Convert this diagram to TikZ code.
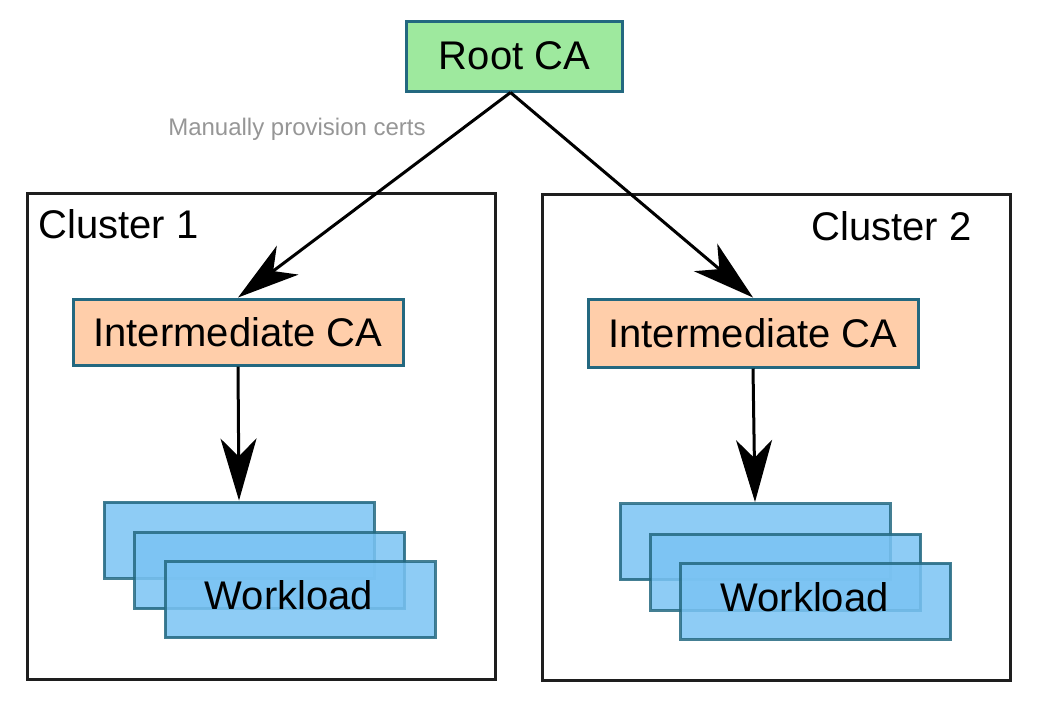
\documentclass[tikz,border=0pt]{standalone}
\usepackage{fontspec}
\setmainfont{Liberation Sans}
\usetikzlibrary{arrows.meta}
\definecolor{edgeteal}{RGB}{35,104,128}
\definecolor{rootgreen}{RGB}{158,233,158}
\definecolor{icapeach}{RGB}{255,206,170}
\definecolor{wlblue}{RGB}{122,195,243}
\definecolor{notegray}{RGB}{150,150,150}
\begin{document}
\begin{tikzpicture}
  [x=0.5pt,y=-0.5pt,
   every node/.style={inner sep=0pt,font=\fontsize{20pt}{24pt}\selectfont},
   cabox/.style={draw=edgeteal,line width=1.5pt,minimum height=34pt},
   wlbox/.style={draw=edgeteal,fill=wlblue,line width=1.5pt,opacity=0.85,text opacity=1,
                 minimum width=135pt,minimum height=38pt},
   wltext/.style={label={[xshift=-5.5pt,yshift=2pt]center:Workload}},
   clusterbox/.style={draw={rgb,255:red,30;green,30;blue,30},line width=1.5pt,minimum height=243pt,minimum width=234pt},
   arr/.style={-{Stealth[length=31pt,width=18pt,inset=9pt]},line width=1.5pt}]
  \useasboundingbox (0,0) rectangle (1042,714);

  \node[clusterbox] (cl1) at (261.5,436) {};
  \node[clusterbox] (cl2) at (776,437) {};
  \node[anchor=base west] (cl1lbl) at (38,238) {Cluster 1};
  \node[anchor=base east] (cl2lbl) at (972,240) {Cluster 2};

  \node (root)[cabox,fill=rootgreen,minimum width=108pt,minimum height=35pt] at (514.5,56) {Root CA};
  \node (note)[text=notegray,font=\fontsize{12pt}{14pt}\selectfont] at (297,129) {Manually provision certs};

  \node (ica1)[cabox,fill=icapeach,minimum width=165pt,minimum height=33pt] at (238,332) {Intermediate CA};
  \node (ica2)[cabox,fill=icapeach,minimum width=165pt,minimum height=34pt] at (753,333) {Intermediate CA};

  \node (wl1a)[wlbox] at (239,540) {};
  \node (wl1b)[wlbox] at (269.5,570.5) {};
  \node (wl1c)[wlbox,wltext] at (300,599.5) {};
  \node (wl2a)[wlbox] at (755,541.5) {};
  \node (wl2b)[wlbox] at (785.5,572) {};
  \node (wl2c)[wlbox,wltext] at (815.5,601) {};

  \foreach \from/\to/\dx in {root/ica1/-2,root/ica2/-2,ica1/wl1a/0,ica2/wl2a/0}
    \draw[arr] ([xshift=\dx pt]\from.south) -- (\to.north);

\end{tikzpicture}
\end{document}
